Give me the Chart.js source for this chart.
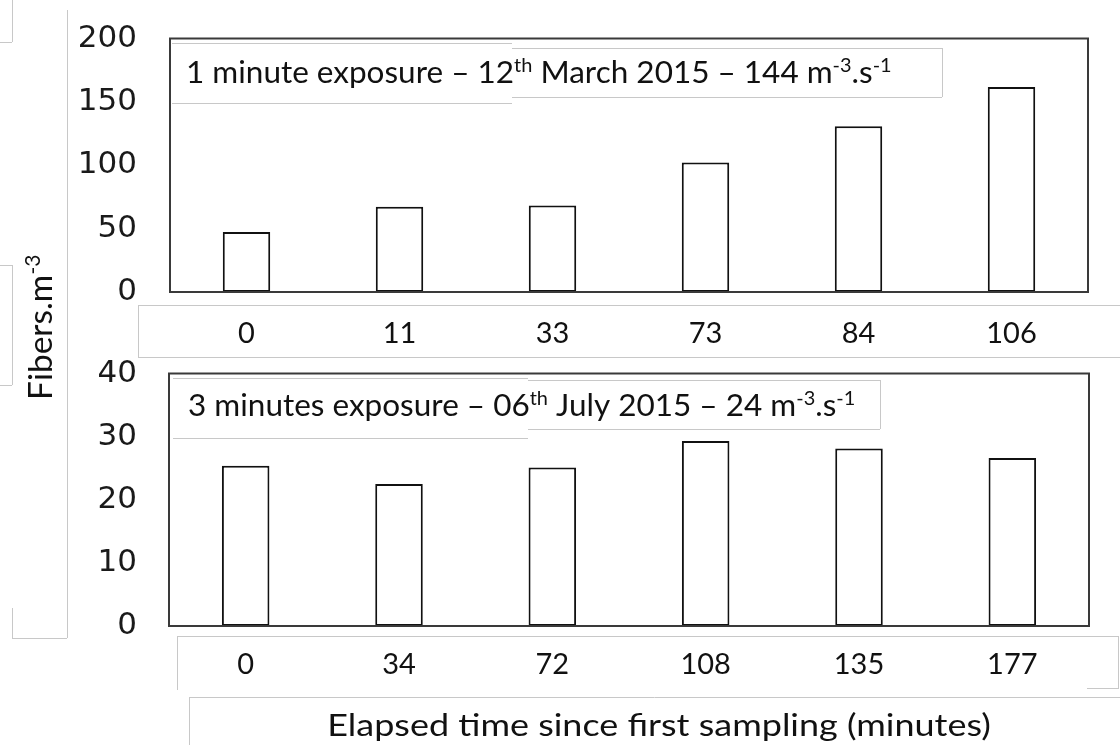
<!DOCTYPE html>
<html>
<head>
<meta charset="utf-8">
<script src="https://cdn.jsdelivr.net/npm/chart.js@4/dist/chart.umd.min.js"></script>
<style>
  body { margin: 0; background: #fff; }
  #wrap { position: relative; width: 1120px; height: 745px; }
  canvas { position: absolute; left: 0; top: 0; }
</style>
</head>
<body>
<div id="wrap">
  <canvas id="chart-march" width="1120" height="745"></canvas>
  <canvas id="chart-july" width="1120" height="745"></canvas>
</div>
<script>
// --- data ---
const marchTimes = ['0', '11', '33', '73', '84', '106'];
const marchFibers = [47.4, 67.2, 68.2, 102.2, 130.7, 161.8];
const julyTimes = ['0', '34', '72', '108', '135', '177'];
const julyFibers = [25.4, 22.5, 25.1, 29.3, 28.1, 26.6];
const marchTicks = [0, 50, 100, 150, 200];
const julyTicks = [0, 10, 20, 30, 40];

const marchNote = [
    { t: '1 minute exposure \u2013 12' }, { t: 'th', sup: true },
    { t: ' March 2015 \u2013 144 m' }, { t: '-3', sup: true },
    { t: '.s' }, { t: '-1', sup: true }
];
const julyNote = [
    { t: '3 minutes exposure \u2013 06' }, { t: 'th', sup: true },
    { t: ' July 2015 \u2013 24 m' }, { t: '-3', sup: true },
    { t: '.s' }, { t: '-1', sup: true }
];
const yTitle = [{ t: 'Fibers.m' }, { t: '-3', sup: true }];
const xTitle = 'Elapsed time since first sampling (minutes)';

const TXT = '#111';
const FAINT = '#c8c8c8';
const FONT = 'Lato, "Open Sans", sans-serif';

// draws text with superscript pieces, left to right from x on baseline y
function drawRich(ctx, parts, x, y, size) {
    ctx.textBaseline = 'alphabetic';
    ctx.textAlign = 'left';
    parts.forEach(p => {
        const fs = p.sup ? Math.round(size * 0.62) : size;
        ctx.font = `${fs}px ${FONT}`;
        ctx.fillText(p.t, x, p.sup ? y - size * 0.36 : y);
        x += ctx.measureText(p.t).width;
    });
}

function line(ctx, x1, y1, x2, y2) {
    ctx.beginPath();
    ctx.moveTo(x1, y1);
    ctx.lineTo(x2, y2);
    ctx.stroke();
}

// outline of the plot + the caption box inside it
function framePlugin(note, box) {
    return {
        id: 'frame',
        afterDatasetsDraw(chart) {
            const { ctx, chartArea: a } = chart;
            ctx.save();
            // caption box (two slightly offset pieces, as in the pasted figure)
            ctx.fillStyle = '#fff';
            ctx.fillRect(box.x1, box.y1, box.x3 - box.x1, box.y2 - box.y1);
            ctx.strokeStyle = FAINT;
            ctx.lineWidth = 1;
            line(ctx, box.x1, box.y1 + 0.5, box.x2, box.y1 + 0.5);
            line(ctx, box.x1, box.y2 + 0.5, box.x2, box.y2 + 0.5);
            line(ctx, box.x2, box.y3 + 0.5, box.x3, box.y3 + 0.5);
            line(ctx, box.x2, box.y4 + 0.5, box.x3, box.y4 + 0.5);
            line(ctx, box.x3 + 0.5, box.y3, box.x3 + 0.5, box.y4);
            ctx.fillStyle = TXT;
            ctx.translate(box.tx, box.ty);
            ctx.scale(1.05, 1);
            drawRich(ctx, note, 0, 0, 30);
            ctx.restore();
            // plot outline
            ctx.save();
            ctx.strokeStyle = '#3a3a3a';
            ctx.lineWidth = 2;
            ctx.strokeRect(a.left, a.top, a.right - a.left, a.bottom - a.top);
            ctx.restore();
        }
    };
}

// faint edges of the pasted text boxes, shared titles
const pagePlugin = {
    id: 'page',
    beforeDraw(chart) {
        const ctx = chart.ctx;
        ctx.save();
        ctx.strokeStyle = FAINT;
        ctx.lineWidth = 1;
        // left stubs
        line(ctx, 12.5, 0, 12.5, 42);
        line(ctx, 0, 42.5, 12, 42.5);
        line(ctx, 67.5, 10, 67.5, 638);
        line(ctx, 0, 265.5, 12, 265.5);
        line(ctx, 12.5, 265, 12.5, 385);
        line(ctx, 0, 385.5, 12, 385.5);
        line(ctx, 12.5, 608, 12.5, 638);
        line(ctx, 12, 638.5, 67, 638.5);
        // tick label boxes
        line(ctx, 138.5, 305, 138.5, 357);
        line(ctx, 138, 305.5, 1120, 305.5);
        line(ctx, 138, 357.5, 1120, 357.5);
        line(ctx, 177.5, 636, 177.5, 690);
        line(ctx, 177, 636.5, 1119, 636.5);
        line(ctx, 1118.5, 636, 1118.5, 688);
        line(ctx, 1087, 688.5, 1119, 688.5);
        // axis title box
        line(ctx, 189.5, 697, 189.5, 745);
        line(ctx, 189, 697.5, 1120, 697.5);
        ctx.restore();
    },
    afterDraw(chart) {
        const ctx = chart.ctx;
        ctx.save();
        ctx.fillStyle = TXT;
        ctx.translate(52, 400);
        ctx.rotate(-Math.PI / 2);
        drawRich(ctx, yTitle, 0, 0, 33.5);
        ctx.restore();
        ctx.save();
        ctx.fillStyle = TXT;
        ctx.font = `31px ${FONT}`;
        ctx.textAlign = 'center';
        ctx.textBaseline = 'alphabetic';
        ctx.translate(659, 736);
        ctx.scale(1.16, 1);
        ctx.fillText(xTitle, 0, 0);
        ctx.restore();
    }
};

function makeChart(id, labels, values, ticks, opts) {
    const yMax = ticks[ticks.length - 1];
    return new Chart(document.getElementById(id), {
        type: 'bar',
        data: {
            labels: labels,
            datasets: [{
                data: values,
                backgroundColor: '#fff',
                borderColor: '#111',
                borderWidth: 2,
                borderSkipped: false,
                barPercentage: 0.31,
                categoryPercentage: 1
            }]
        },
        options: {
            responsive: false,
            animation: false,
            devicePixelRatio: 1,
            events: [],
            layout: { padding: opts.padding },
            plugins: { legend: { display: false }, tooltip: { enabled: false } },
            scales: {
                x: {
                    grid: { display: false, drawTicks: false },
                    border: { display: false },
                    ticks: { color: TXT, font: { family: FONT, size: 29 }, padding: opts.xPad, maxRotation: 0 },
                    afterFit: s => { s.height = opts.xHeight; s.paddingLeft = 0; s.paddingRight = 0; }
                },
                y: {
                    min: 0, max: yMax,
                    afterBuildTicks: s => { s.ticks = ticks.map(v => ({ value: v })); },
                    grid: { display: false, drawTicks: false },
                    border: { display: false },
                    ticks: { color: '#1a1a1a', font: { family: '"DejaVu Sans"', size: 31 }, padding: opts.yPad },
                    afterFit: s => { s.width = opts.yWidth; s.paddingTop = 0; s.paddingBottom = 0; }
                }
            }
        },
        plugins: opts.plugins
    });
}

makeChart('chart-march', marchTimes, marchFibers, marchTicks, {
    padding: { top: 38.5, right: 32, bottom: 385, left: 0 },
    xHeight: 68, xPad: 24, yWidth: 170, yPad: 33,
    plugins: [pagePlugin, framePlugin(marchNote,
        { x1: 172, x2: 512, x3: 942, y1: 43, y2: 103, y3: 48, y4: 97, tx: 186, ty: 83 })]
});

makeChart('chart-july', julyTimes, julyFibers, julyTicks, {
    padding: { top: 373.5, right: 31, bottom: 0, left: 0 },
    xHeight: 119, xPad: 21, yWidth: 169, yPad: 32,
    plugins: [framePlugin(julyNote,
        { x1: 173, x2: 528, x3: 880, y1: 378, y2: 438, y3: 380, y4: 429, tx: 188, ty: 416 })]
});
</script>
</body>
</html>
